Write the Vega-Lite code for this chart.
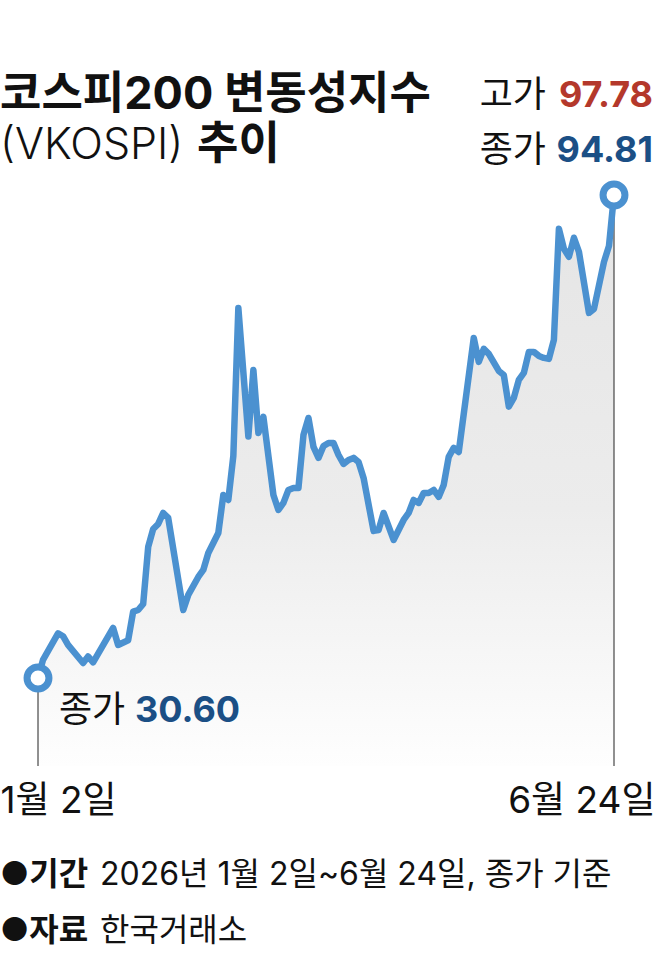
{
  "$schema": "https://vega.github.io/schema/vega-lite/v6.json",
  "width": 576,
  "height": 571,
  "autosize": {"type": "none"},
  "padding": {"left": 38, "top": 195, "right": 44, "bottom": 203},
  "background": "white",
  "config": {"view": {"stroke": null}, "font": "Inter, Noto Sans CJK KR"},
  "datasets": {
    "vkospi": [
      {"date": "2026-01-02", "close": 30.60},
      {"date": "2026-01-05", "close": 33.0},
      {"date": "2026-01-08", "close": 36.54},
      {"date": "2026-01-09", "close": 36.15},
      {"date": "2026-01-12", "close": 35.0},
      {"date": "2026-01-15", "close": 32.59},
      {"date": "2026-01-16", "close": 33.46},
      {"date": "2026-01-19", "close": 32.69},
      {"date": "2026-01-23", "close": 37.25},
      {"date": "2026-01-26", "close": 34.99},
      {"date": "2026-01-28", "close": 35.61},
      {"date": "2026-01-29", "close": 39.42},
      {"date": "2026-01-30", "close": 39.64},
      {"date": "2026-02-02", "close": 40.44},
      {"date": "2026-02-03", "close": 48.02},
      {"date": "2026-02-04", "close": 50.41},
      {"date": "2026-02-05", "close": 51.08},
      {"date": "2026-02-06", "close": 52.54},
      {"date": "2026-02-09", "close": 51.88},
      {"date": "2026-02-12", "close": 39.64},
      {"date": "2026-02-13", "close": 41.64},
      {"date": "2026-02-20", "close": 44.03},
      {"date": "2026-02-23", "close": 44.96},
      {"date": "2026-02-24", "close": 47.22},
      {"date": "2026-02-25", "close": 48.55},
      {"date": "2026-02-26", "close": 49.88},
      {"date": "2026-02-27", "close": 54.93},
      {"date": "2026-03-03", "close": 54.27},
      {"date": "2026-03-04", "close": 60.12},
      {"date": "2026-03-05", "close": 79.80},
      {"date": "2026-03-09", "close": 62.69},
      {"date": "2026-03-10", "close": 71.56},
      {"date": "2026-03-11", "close": 63.18},
      {"date": "2026-03-12", "close": 65.31},
      {"date": "2026-03-16", "close": 54.93},
      {"date": "2026-03-17", "close": 52.94},
      {"date": "2026-03-18", "close": 53.87},
      {"date": "2026-03-19", "close": 55.60},
      {"date": "2026-03-20", "close": 55.87},
      {"date": "2026-03-23", "close": 55.87},
      {"date": "2026-03-24", "close": 62.91},
      {"date": "2026-03-25", "close": 65.17},
      {"date": "2026-03-26", "close": 61.32},
      {"date": "2026-03-27", "close": 59.86},
      {"date": "2026-03-30", "close": 61.45},
      {"date": "2026-03-31", "close": 61.85},
      {"date": "2026-04-01", "close": 61.85},
      {"date": "2026-04-02", "close": 60.25},
      {"date": "2026-04-03", "close": 59.06},
      {"date": "2026-04-06", "close": 59.59},
      {"date": "2026-04-07", "close": 59.86},
      {"date": "2026-04-08", "close": 59.32},
      {"date": "2026-04-09", "close": 57.20},
      {"date": "2026-04-13", "close": 50.15},
      {"date": "2026-04-14", "close": 50.28},
      {"date": "2026-04-15", "close": 52.54},
      {"date": "2026-04-17", "close": 48.95},
      {"date": "2026-04-21", "close": 51.61},
      {"date": "2026-04-22", "close": 52.54},
      {"date": "2026-04-23", "close": 54.27},
      {"date": "2026-04-24", "close": 53.87},
      {"date": "2026-04-27", "close": 55.20},
      {"date": "2026-04-28", "close": 55.20},
      {"date": "2026-04-29", "close": 55.60},
      {"date": "2026-04-30", "close": 54.67},
      {"date": "2026-05-04", "close": 56.27},
      {"date": "2026-05-06", "close": 60.00},
      {"date": "2026-05-07", "close": 61.19},
      {"date": "2026-05-08", "close": 60.65},
      {"date": "2026-05-13", "close": 75.81},
      {"date": "2026-05-14", "close": 72.62},
      {"date": "2026-05-15", "close": 74.35},
      {"date": "2026-05-18", "close": 73.69},
      {"date": "2026-05-20", "close": 71.42},
      {"date": "2026-05-21", "close": 70.89},
      {"date": "2026-05-22", "close": 66.68},
      {"date": "2026-05-26", "close": 67.83},
      {"date": "2026-05-27", "close": 70.23},
      {"date": "2026-05-28", "close": 71.16},
      {"date": "2026-05-29", "close": 73.95},
      {"date": "2026-06-01", "close": 73.95},
      {"date": "2026-06-02", "close": 73.42},
      {"date": "2026-06-04", "close": 73.15},
      {"date": "2026-06-05", "close": 73.02},
      {"date": "2026-06-08", "close": 75.55},
      {"date": "2026-06-09", "close": 90.31},
      {"date": "2026-06-10", "close": 87.66},
      {"date": "2026-06-11", "close": 86.60},
      {"date": "2026-06-12", "close": 89.13},
      {"date": "2026-06-15", "close": 87.25},
      {"date": "2026-06-17", "close": 79.14},
      {"date": "2026-06-18", "close": 79.67},
      {"date": "2026-06-22", "close": 85.92},
      {"date": "2026-06-23", "close": 88.05},
      {"date": "2026-06-24", "close": 94.81}
    ]
  },
  "layer": [
    {
      "data": {"name": "vkospi"},
      "mark": {
        "type": "area",
        "color": {
          "gradient": "linear", "x1": 0, "y1": 0, "x2": 0, "y2": 1,
          "stops": [
            {"offset": 0, "color": "#e5e5e5"},
            {"offset": 0.55, "color": "#ececec"},
            {"offset": 1, "color": "#fefefe"}
          ]
        }
      },
      "encoding": {
        "x": {
          "field": "date", "type": "ordinal",
          "scale": {
            "type": "point", "padding": 0,
            "domain": [
              "2026-01-02","2026-01-05","2026-01-06","2026-01-07","2026-01-08","2026-01-09",
              "2026-01-12","2026-01-13","2026-01-14","2026-01-15","2026-01-16",
              "2026-01-19","2026-01-20","2026-01-21","2026-01-22","2026-01-23",
              "2026-01-26","2026-01-27","2026-01-28","2026-01-29","2026-01-30",
              "2026-02-02","2026-02-03","2026-02-04","2026-02-05","2026-02-06",
              "2026-02-09","2026-02-10","2026-02-11","2026-02-12","2026-02-13",
              "2026-02-19","2026-02-20",
              "2026-02-23","2026-02-24","2026-02-25","2026-02-26","2026-02-27",
              "2026-03-03","2026-03-04","2026-03-05","2026-03-06",
              "2026-03-09","2026-03-10","2026-03-11","2026-03-12","2026-03-13",
              "2026-03-16","2026-03-17","2026-03-18","2026-03-19","2026-03-20",
              "2026-03-23","2026-03-24","2026-03-25","2026-03-26","2026-03-27",
              "2026-03-30","2026-03-31",
              "2026-04-01","2026-04-02","2026-04-03",
              "2026-04-06","2026-04-07","2026-04-08","2026-04-09","2026-04-10",
              "2026-04-13","2026-04-14","2026-04-15","2026-04-16","2026-04-17",
              "2026-04-20","2026-04-21","2026-04-22","2026-04-23","2026-04-24",
              "2026-04-27","2026-04-28","2026-04-29","2026-04-30",
              "2026-05-04","2026-05-06","2026-05-07","2026-05-08",
              "2026-05-11","2026-05-12","2026-05-13","2026-05-14","2026-05-15",
              "2026-05-18","2026-05-19","2026-05-20","2026-05-21","2026-05-22",
              "2026-05-26","2026-05-27","2026-05-28","2026-05-29",
              "2026-06-01","2026-06-02","2026-06-04","2026-06-05",
              "2026-06-08","2026-06-09","2026-06-10","2026-06-11","2026-06-12",
              "2026-06-15","2026-06-16","2026-06-17","2026-06-18","2026-06-19",
              "2026-06-22","2026-06-23","2026-06-24"
            ]
          },
          "axis": {
            "values": ["2026-01-02", "2026-06-24"],
            "labelExpr": "datum.value == '2026-01-02' ? '1월 2일' : '6월 24일'",
            "domain": false, "ticks": false, "tickSize": 0, "grid": false, "title": null,
            "labelAngle": 0, "labelFontSize": 37, "labelFont": "Inter, Noto Sans CJK KR",
            "labelColor": "#111111", "labelPadding": 46, "labelBaseline": "alphabetic",
            "labelOverlap": false, "labelBound": false, "labelFlush": false,
            "labelAlign": {"condition": {"test": "datum.value == '2026-01-02'", "value": "left"}, "value": "right"},
            "labelOffset": {"condition": {"test": "datum.value == '2026-01-02'", "value": -38}, "value": 41}
          }
        },
        "y": {"field": "close", "type": "quantitative", "scale": {"domain": [18.9, 94.81], "nice": false, "zero": false}, "axis": null},
        "y2": {"datum": 18.9}
      }
    },
    {
      "data": {"name": "vkospi"},
      "transform": [{"filter": {"field": "date", "oneOf": ["2026-01-02", "2026-06-24"]}}],
      "mark": {"type": "rule", "color": "#222222", "strokeWidth": 1},
      "encoding": {
        "x": {"field": "date", "type": "ordinal"},
        "y": {"field": "close", "type": "quantitative"},
        "y2": {"datum": 18.9}
      }
    },
    {
      "data": {"name": "vkospi"},
      "mark": {"type": "line", "color": "#4b91d0", "strokeWidth": 6.5, "strokeJoin": "round", "strokeCap": "round"},
      "encoding": {
        "x": {"field": "date", "type": "ordinal"},
        "y": {"field": "close", "type": "quantitative"}
      }
    },
    {
      "data": {"name": "vkospi"},
      "transform": [{"filter": {"field": "date", "oneOf": ["2026-01-02", "2026-06-24"]}}],
      "mark": {"type": "point", "shape": "circle", "filled": true, "fill": "white", "stroke": "#4b91d0", "strokeWidth": 7, "size": 480, "opacity": 1, "fillOpacity": 1, "strokeOpacity": 1},
      "encoding": {
        "x": {"field": "date", "type": "ordinal"},
        "y": {"field": "close", "type": "quantitative"}
      }
    },
    {
      "data": {"values": [{"t": "종가"}]},
      "mark": {"type": "text", "align": "left", "baseline": "alphabetic", "dx": 21, "dy": 44, "fontSize": 36, "font": "Inter, Noto Sans CJK KR", "color": "#111111"},
      "encoding": {"x": {"datum": "2026-01-02", "type": "ordinal"}, "y": {"datum": 30.60, "type": "quantitative"}, "text": {"field": "t"}}
    },
    {
      "data": {"name": "vkospi"},
      "transform": [{"filter": {"field": "date", "equal": "2026-01-02"}}],
      "mark": {"type": "text", "align": "left", "baseline": "alphabetic", "dx": 97, "dy": 44, "fontSize": 36, "fontWeight": "bold", "font": "Inter, Noto Sans CJK KR", "color": "#1b4f85"},
      "encoding": {"x": {"field": "date", "type": "ordinal"}, "y": {"field": "close", "type": "quantitative"}, "text": {"field": "close", "format": ".2f"}}
    },
    {
      "data": {"values": [{"t": "고가"}]},
      "mark": {"type": "text", "align": "right", "baseline": "alphabetic", "dx": -68, "dy": -88, "fontSize": 36, "font": "Inter, Noto Sans CJK KR", "color": "#111111"},
      "encoding": {"x": {"datum": "2026-06-24", "type": "ordinal"}, "y": {"datum": 94.81, "type": "quantitative"}, "text": {"field": "t"}}
    },
    {
      "data": {"values": [{"high": 97.78}]},
      "mark": {"type": "text", "align": "right", "baseline": "alphabetic", "dx": 39, "dy": -88, "fontSize": 36, "fontWeight": "bold", "font": "Inter, Noto Sans CJK KR", "color": "#b4382b"},
      "encoding": {"x": {"datum": "2026-06-24", "type": "ordinal"}, "y": {"datum": 94.81, "type": "quantitative"}, "text": {"field": "high", "format": ".2f"}}
    },
    {
      "data": {"values": [{"t": "종가"}]},
      "mark": {"type": "text", "align": "right", "baseline": "alphabetic", "dx": -68, "dy": -33, "fontSize": 36, "font": "Inter, Noto Sans CJK KR", "color": "#111111"},
      "encoding": {"x": {"datum": "2026-06-24", "type": "ordinal"}, "y": {"datum": 94.81, "type": "quantitative"}, "text": {"field": "t"}}
    },
    {
      "data": {"name": "vkospi"},
      "transform": [{"filter": {"field": "date", "equal": "2026-06-24"}}],
      "mark": {"type": "text", "align": "right", "baseline": "alphabetic", "dx": 39, "dy": -33, "fontSize": 36, "fontWeight": "bold", "font": "Inter, Noto Sans CJK KR", "color": "#1b4f85"},
      "encoding": {"x": {"field": "date", "type": "ordinal"}, "y": {"field": "close", "type": "quantitative"}, "text": {"field": "close", "format": ".2f"}}
    },
    {
      "data": {"values": [{"t": "코스피200 변동성지수"}]},
      "mark": {"type": "text", "align": "left", "baseline": "alphabetic", "dx": -38, "dy": -86, "fontSize": 45, "fontWeight": "bold", "font": "Inter, Noto Sans CJK KR", "color": "#111111"},
      "encoding": {"x": {"datum": "2026-01-02", "type": "ordinal"}, "y": {"datum": 94.81, "type": "quantitative"}, "text": {"field": "t"}}
    },
    {
      "data": {"values": [{"t": "(VKOSPI)"}]},
      "mark": {"type": "text", "align": "left", "baseline": "alphabetic", "dx": -38, "dy": -36, "fontSize": 43, "fontWeight": 300, "font": "Inter, Noto Sans CJK KR", "color": "#111111"},
      "encoding": {"x": {"datum": "2026-01-02", "type": "ordinal"}, "y": {"datum": 94.81, "type": "quantitative"}, "text": {"field": "t"}}
    },
    {
      "data": {"values": [{"t": "추이"}]},
      "mark": {"type": "text", "align": "left", "baseline": "alphabetic", "dx": 159, "dy": -36, "fontSize": 45, "fontWeight": "bold", "font": "Inter, Noto Sans CJK KR", "color": "#111111"},
      "encoding": {"x": {"datum": "2026-01-02", "type": "ordinal"}, "y": {"datum": 94.81, "type": "quantitative"}, "text": {"field": "t"}}
    },
    {
      "data": {"values": [{"t": "●기간"}]},
      "mark": {"type": "text", "align": "left", "baseline": "alphabetic", "dx": -38, "dy": 119, "fontSize": 32, "fontWeight": "bold", "font": "Inter, Noto Sans CJK KR", "color": "#111111"},
      "encoding": {"x": {"datum": "2026-01-02", "type": "ordinal"}, "y": {"datum": 18.9, "type": "quantitative"}, "text": {"field": "t"}}
    },
    {
      "data": {"values": [{"t": "2026년 1월 2일~6월 24일, 종가 기준"}]},
      "mark": {"type": "text", "align": "left", "baseline": "alphabetic", "dx": 62, "dy": 119, "fontSize": 32, "fontWeight": "normal", "font": "Inter, Noto Sans CJK KR", "color": "#111111"},
      "encoding": {"x": {"datum": "2026-01-02", "type": "ordinal"}, "y": {"datum": 18.9, "type": "quantitative"}, "text": {"field": "t"}}
    },
    {
      "data": {"values": [{"t": "●자료"}]},
      "mark": {"type": "text", "align": "left", "baseline": "alphabetic", "dx": -38, "dy": 175, "fontSize": 32, "fontWeight": "bold", "font": "Inter, Noto Sans CJK KR", "color": "#111111"},
      "encoding": {"x": {"datum": "2026-01-02", "type": "ordinal"}, "y": {"datum": 18.9, "type": "quantitative"}, "text": {"field": "t"}}
    },
    {
      "data": {"values": [{"t": "한국거래소"}]},
      "mark": {"type": "text", "align": "left", "baseline": "alphabetic", "dx": 62, "dy": 175, "fontSize": 32, "fontWeight": "normal", "font": "Inter, Noto Sans CJK KR", "color": "#111111"},
      "encoding": {"x": {"datum": "2026-01-02", "type": "ordinal"}, "y": {"datum": 18.9, "type": "quantitative"}, "text": {"field": "t"}}
    }
  ]
}
